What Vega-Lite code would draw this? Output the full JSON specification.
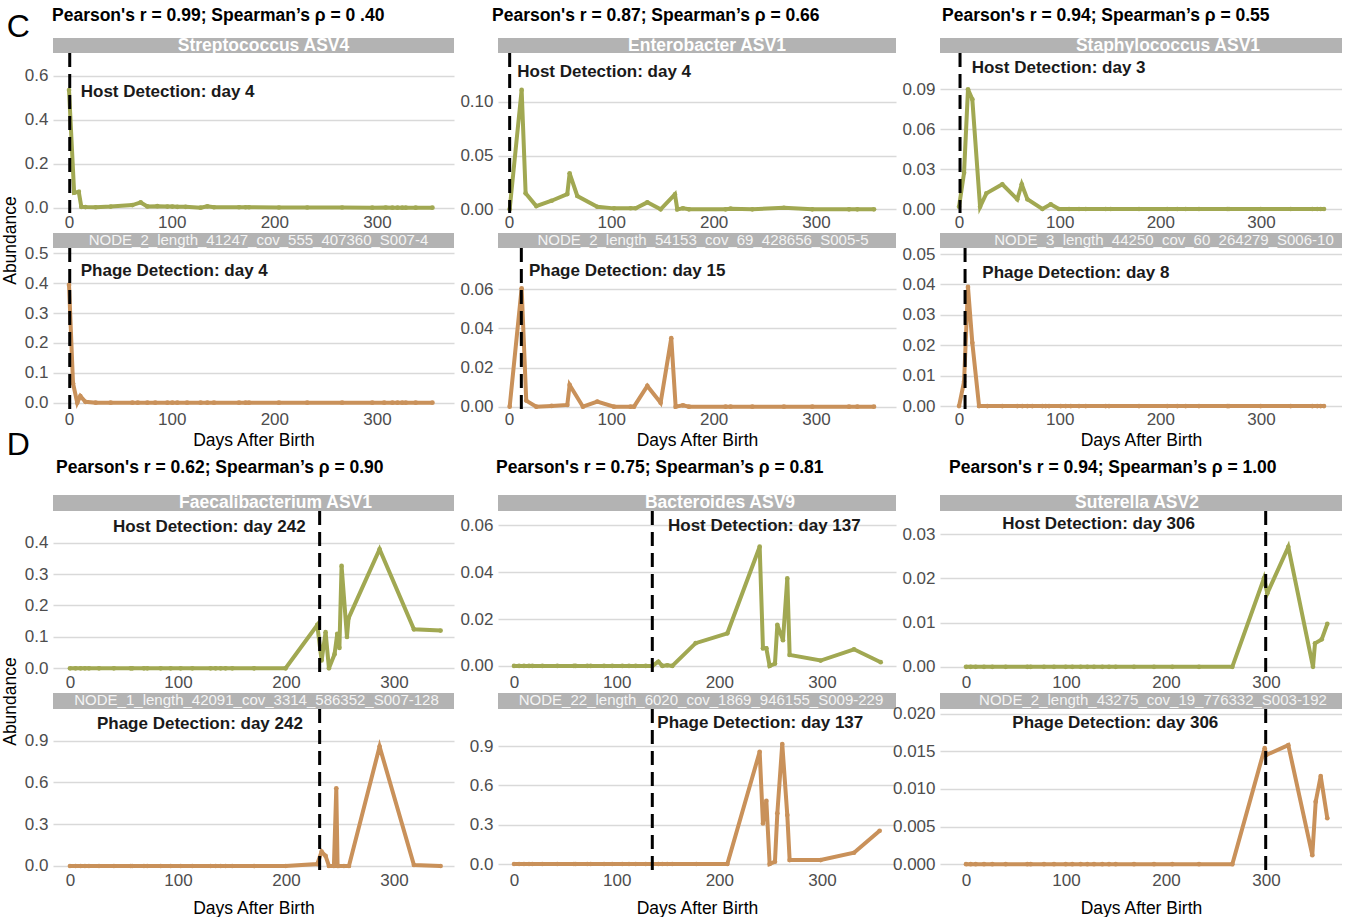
{
"$schema":"https://vega.github.io/schema/vega-lite/v6.json",
"background":"white",
"padding":{"left":1,"top":0,"right":0,"bottom":0},
"bounds":"flush","align":"each","columns":3,
"spacing":{"row":0,"column":44},
"config":{
"font":"Liberation Sans",
"view":{"stroke":null},
"axis":{"domain":false,"ticks":false,"labelOverlap":false,"labelFontSize":17,"labelColor":"#4d4d4d","titleFontSize":17.5,"titleFontWeight":"normal","titleColor":"black"},
"axisX":{"grid":false,"labelPadding":1,"labelFlush":false},
"axisY":{"grid":true,"gridColor":"#d9d9d9","gridWidth":1.3,"labelPadding":5},
"title":{"fontSize":17.5,"fontWeight":"bold","color":"black","anchor":"start","baseline":"middle","frame":"group"}
},
"datasets":{
"meta":[
{"p":"C1h","det":0.7,"label":"Host Detection: day 4"},
{"p":"C1p","det":0.7,"label":"Phage Detection: day 4"},
{"p":"C2h","det":0.7,"label":"Host Detection: day 4"},
{"p":"C2p","det":12.1,"label":"Phage Detection: day 15"},
{"p":"C3h","det":1,"label":"Host Detection: day 3"},
{"p":"C3p","det":6,"label":"Phage Detection: day 8"},
{"p":"D1h","det":231.2,"label":"Host Detection: day 242"},
{"p":"D1p","det":231.2,"label":"Phage Detection: day 242"},
{"p":"D2h","det":134.7,"label":"Host Detection: day 137"},
{"p":"D2p","det":134.7,"label":"Phage Detection: day 137"},
{"p":"D3h","det":299.7,"label":"Host Detection: day 306"},
{"p":"D3p","det":299.7,"label":"Phage Detection: day 306"}],
"series":[
{"p":"C1h","d":0,"a":0.535},{"p":"C1h","d":5,"a":0.068},{"p":"C1h","d":9.5,"a":0.072},{"p":"C1h","d":12,"a":0.004},{"p":"C1h","d":16,"a":0.003},{"p":"C1h","d":26,"a":0.002},{"p":"C1h","d":40.6,"a":0.005},{"p":"C1h","d":61.7,"a":0.012},{"p":"C1h","d":69.8,"a":0.024},{"p":"C1h","d":76.3,"a":0.006},{"p":"C1h","d":86,"a":0.007},{"p":"C1h","d":95.8,"a":0.005},{"p":"C1h","d":100.6,"a":0.005},{"p":"C1h","d":105.5,"a":0.004},{"p":"C1h","d":113.6,"a":0.004},{"p":"C1h","d":128.2,"a":0},{"p":"C1h","d":134.7,"a":0.006},{"p":"C1h","d":141.2,"a":0.002},{"p":"C1h","d":165.6,"a":0.002},{"p":"C1h","d":172,"a":0.002},{"p":"C1h","d":175.3,"a":0.002},{"p":"C1h","d":204.5,"a":0.001},{"p":"C1h","d":232,"a":0.001},{"p":"C1h","d":266,"a":0.001},{"p":"C1h","d":295.4,"a":0},{"p":"C1h","d":308.5,"a":0.001},{"p":"C1h","d":315,"a":0},{"p":"C1h","d":320,"a":0},{"p":"C1h","d":324.6,"a":0},{"p":"C1h","d":328,"a":0},{"p":"C1h","d":337.7,"a":0},{"p":"C1h","d":354,"a":0},
{"p":"C1p","d":0,"a":0.394},{"p":"C1p","d":3.9,"a":0.065},{"p":"C1p","d":8,"a":0},{"p":"C1p","d":11,"a":0.022},{"p":"C1p","d":16,"a":0.003},{"p":"C1p","d":26,"a":0},{"p":"C1p","d":40.6,"a":0},{"p":"C1p","d":61.7,"a":0},{"p":"C1p","d":67,"a":0},{"p":"C1p","d":76.3,"a":0},{"p":"C1p","d":84,"a":0},{"p":"C1p","d":95.8,"a":0},{"p":"C1p","d":100.6,"a":0},{"p":"C1p","d":105.5,"a":0},{"p":"C1p","d":115,"a":0},{"p":"C1p","d":128.2,"a":0},{"p":"C1p","d":134.7,"a":0},{"p":"C1p","d":141.2,"a":0},{"p":"C1p","d":165.6,"a":0},{"p":"C1p","d":172,"a":0},{"p":"C1p","d":175.3,"a":0},{"p":"C1p","d":204.5,"a":0},{"p":"C1p","d":232,"a":0},{"p":"C1p","d":266,"a":0},{"p":"C1p","d":295.4,"a":0},{"p":"C1p","d":307,"a":0},{"p":"C1p","d":315,"a":0},{"p":"C1p","d":320,"a":0},{"p":"C1p","d":324.6,"a":0},{"p":"C1p","d":328,"a":0},{"p":"C1p","d":337.7,"a":0},{"p":"C1p","d":354,"a":0},
{"p":"C2h","d":0.7,"a":0},{"p":"C2h","d":12.4,"a":0.111},{"p":"C2h","d":16.3,"a":0.0149},{"p":"C2h","d":26.7,"a":0.003},{"p":"C2h","d":41.7,"a":0.008},{"p":"C2h","d":57,"a":0.0142},{"p":"C2h","d":59.3,"a":0.0335},{"p":"C2h","d":66.8,"a":0.0124},{"p":"C2h","d":86.3,"a":0.0024},{"p":"C2h","d":102.6,"a":0.0009},{"p":"C2h","d":118.9,"a":0.001},{"p":"C2h","d":123.8,"a":0.001},{"p":"C2h","d":135.2,"a":0.0065},{"p":"C2h","d":148.2,"a":0},{"p":"C2h","d":162.2,"a":0.0139},{"p":"C2h","d":164.5,"a":0},{"p":"C2h","d":170,"a":0.001},{"p":"C2h","d":175.9,"a":0},{"p":"C2h","d":211.7,"a":0},{"p":"C2h","d":216.6,"a":0.0006},{"p":"C2h","d":237.8,"a":0},{"p":"C2h","d":268.7,"a":0.0015},{"p":"C2h","d":296.4,"a":0},{"p":"C2h","d":332.3,"a":0},{"p":"C2h","d":340.4,"a":0},{"p":"C2h","d":356.7,"a":0},
{"p":"C2p","d":0.7,"a":0},{"p":"C2p","d":12.4,"a":0.0605},{"p":"C2p","d":16.9,"a":0.0031},{"p":"C2p","d":26.7,"a":0},{"p":"C2p","d":41.7,"a":0.0004},{"p":"C2p","d":57,"a":0.0009},{"p":"C2p","d":59.3,"a":0.0111},{"p":"C2p","d":72.3,"a":0},{"p":"C2p","d":86.3,"a":0.0026},{"p":"C2p","d":102.6,"a":0},{"p":"C2p","d":118.9,"a":0},{"p":"C2p","d":122.2,"a":0},{"p":"C2p","d":135.2,"a":0.0106},{"p":"C2p","d":148.2,"a":0.002},{"p":"C2p","d":158.6,"a":0.035},{"p":"C2p","d":162.9,"a":0},{"p":"C2p","d":170,"a":0.0007},{"p":"C2p","d":175.9,"a":0},{"p":"C2p","d":211.7,"a":0},{"p":"C2p","d":216.6,"a":0},{"p":"C2p","d":237.8,"a":0},{"p":"C2p","d":268.7,"a":0},{"p":"C2p","d":296.4,"a":0},{"p":"C2p","d":332.3,"a":0},{"p":"C2p","d":340.4,"a":0},{"p":"C2p","d":356.7,"a":0},
{"p":"C3h","d":0,"a":0.0017},{"p":"C3h","d":5,"a":0.0273},{"p":"C3h","d":8.9,"a":0.09},{"p":"C3h","d":13.2,"a":0.0825},{"p":"C3h","d":20.9,"a":0.0017},{"p":"C3h","d":27.2,"a":0.0118},{"p":"C3h","d":43,"a":0.0186},{"p":"C3h","d":57.9,"a":0.0073},{"p":"C3h","d":62.3,"a":0.0186},{"p":"C3h","d":67.9,"a":0.0073},{"p":"C3h","d":82.8,"a":0},{"p":"C3h","d":91.1,"a":0.0035},{"p":"C3h","d":99.3,"a":0},{"p":"C3h","d":109.3,"a":0},{"p":"C3h","d":119.2,"a":0},{"p":"C3h","d":125.9,"a":0},{"p":"C3h","d":145.7,"a":0},{"p":"C3h","d":150.7,"a":0},{"p":"C3h","d":178.8,"a":0},{"p":"C3h","d":206.9,"a":0},{"p":"C3h","d":216.9,"a":0},{"p":"C3h","d":225.2,"a":0},{"p":"C3h","d":238.4,"a":0},{"p":"C3h","d":266.5,"a":0},{"p":"C3h","d":268.2,"a":0},{"p":"C3h","d":299.7,"a":0},{"p":"C3h","d":329.5,"a":0},{"p":"C3h","d":351,"a":0},{"p":"C3h","d":355.9,"a":0},{"p":"C3h","d":359.3,"a":0},{"p":"C3h","d":362.6,"a":0},
{"p":"C3p","d":0,"a":0},{"p":"C3p","d":5,"a":0.008},{"p":"C3p","d":8.9,"a":0.0392},{"p":"C3p","d":13.2,"a":0.0208},{"p":"C3p","d":19.9,"a":0},{"p":"C3p","d":28.1,"a":0},{"p":"C3p","d":43,"a":0},{"p":"C3p","d":57.9,"a":0},{"p":"C3p","d":62.9,"a":0},{"p":"C3p","d":67.9,"a":0},{"p":"C3p","d":72.8,"a":0},{"p":"C3p","d":82.8,"a":0},{"p":"C3p","d":86.1,"a":0},{"p":"C3p","d":89.4,"a":0},{"p":"C3p","d":101,"a":0},{"p":"C3p","d":106,"a":0},{"p":"C3p","d":111,"a":0},{"p":"C3p","d":119.2,"a":0},{"p":"C3p","d":125.9,"a":0},{"p":"C3p","d":145.7,"a":0},{"p":"C3p","d":149,"a":0},{"p":"C3p","d":178.8,"a":0},{"p":"C3p","d":206.9,"a":0},{"p":"C3p","d":216.9,"a":0},{"p":"C3p","d":225.2,"a":0},{"p":"C3p","d":238.4,"a":0},{"p":"C3p","d":266.5,"a":0},{"p":"C3p","d":268.2,"a":0},{"p":"C3p","d":299.7,"a":0},{"p":"C3p","d":329.5,"a":0},{"p":"C3p","d":351,"a":0},{"p":"C3p","d":355.9,"a":0},{"p":"C3p","d":359.3,"a":0},{"p":"C3p","d":362.6,"a":0},
{"p":"D1h","d":0,"a":0},{"p":"D1h","d":5.2,"a":0},{"p":"D1h","d":9.9,"a":0},{"p":"D1h","d":13.9,"a":0},{"p":"D1h","d":17.6,"a":0},{"p":"D1h","d":26.9,"a":0},{"p":"D1h","d":40.7,"a":0},{"p":"D1h","d":56.2,"a":0},{"p":"D1h","d":57.7,"a":0},{"p":"D1h","d":68.5,"a":0},{"p":"D1h","d":71.6,"a":0},{"p":"D1h","d":84,"a":0},{"p":"D1h","d":93.2,"a":0},{"p":"D1h","d":102.5,"a":0},{"p":"D1h","d":113.3,"a":0},{"p":"D1h","d":130.2,"a":0},{"p":"D1h","d":134.9,"a":0},{"p":"D1h","d":139.5,"a":0},{"p":"D1h","d":144.1,"a":0},{"p":"D1h","d":150.3,"a":0},{"p":"D1h","d":170.4,"a":0},{"p":"D1h","d":199.7,"a":0},{"p":"D1h","d":229,"a":0.138},{"p":"D1h","d":233,"a":0.025},{"p":"D1h","d":236.7,"a":0.115},{"p":"D1h","d":239.8,"a":0},{"p":"D1h","d":245,"a":0.045},{"p":"D1h","d":247.5,"a":0.11},{"p":"D1h","d":249.5,"a":0.065},{"p":"D1h","d":251.5,"a":0.326},{"p":"D1h","d":256.5,"a":0.1},{"p":"D1h","d":258,"a":0.16},{"p":"D1h","d":286.7,"a":0.379},{"p":"D1h","d":318.5,"a":0.124},{"p":"D1h","d":343.2,"a":0.12},
{"p":"D1p","d":0,"a":0},{"p":"D1p","d":5.2,"a":0},{"p":"D1p","d":9.9,"a":0},{"p":"D1p","d":13.9,"a":0},{"p":"D1p","d":17.6,"a":0},{"p":"D1p","d":26.9,"a":0},{"p":"D1p","d":40.7,"a":0},{"p":"D1p","d":56.2,"a":0},{"p":"D1p","d":57.7,"a":0},{"p":"D1p","d":68.5,"a":0},{"p":"D1p","d":71.6,"a":0},{"p":"D1p","d":84,"a":0},{"p":"D1p","d":93.2,"a":0},{"p":"D1p","d":102.5,"a":0},{"p":"D1p","d":113.3,"a":0},{"p":"D1p","d":130.2,"a":0},{"p":"D1p","d":134.9,"a":0},{"p":"D1p","d":139.5,"a":0},{"p":"D1p","d":144.1,"a":0},{"p":"D1p","d":150.3,"a":0},{"p":"D1p","d":170.4,"a":0},{"p":"D1p","d":199.7,"a":0},{"p":"D1p","d":229,"a":0.014},{"p":"D1p","d":233,"a":0.103},{"p":"D1p","d":236.7,"a":0.072},{"p":"D1p","d":239.8,"a":0},{"p":"D1p","d":244.4,"a":0},{"p":"D1p","d":246.6,"a":0.558},{"p":"D1p","d":247.8,"a":0},{"p":"D1p","d":249,"a":0},{"p":"D1p","d":253.7,"a":0},{"p":"D1p","d":258.3,"a":0},{"p":"D1p","d":286.7,"a":0.857},{"p":"D1p","d":318.5,"a":0.007},{"p":"D1p","d":343.2,"a":0},
{"p":"D2h","d":0,"a":0},{"p":"D2h","d":4.9,"a":0},{"p":"D2h","d":9.7,"a":0},{"p":"D2h","d":14.6,"a":0},{"p":"D2h","d":17.9,"a":0},{"p":"D2h","d":27.6,"a":0},{"p":"D2h","d":42.2,"a":0},{"p":"D2h","d":58.4,"a":0},{"p":"D2h","d":60.1,"a":0},{"p":"D2h","d":71.4,"a":0},{"p":"D2h","d":74.7,"a":0},{"p":"D2h","d":87.7,"a":0},{"p":"D2h","d":95.7,"a":0},{"p":"D2h","d":105.5,"a":0},{"p":"D2h","d":112,"a":0},{"p":"D2h","d":118.5,"a":0},{"p":"D2h","d":128.3,"a":0},{"p":"D2h","d":134.7,"a":0},{"p":"D2h","d":140.6,"a":0.0018},{"p":"D2h","d":144.5,"a":0},{"p":"D2h","d":149.3,"a":0.0003},{"p":"D2h","d":154.2,"a":0},{"p":"D2h","d":176.9,"a":0.0097},{"p":"D2h","d":207.8,"a":0.0139},{"p":"D2h","d":239.3,"a":0.0508},{"p":"D2h","d":242.5,"a":0.0075},{"p":"D2h","d":245.8,"a":0.0075},{"p":"D2h","d":249,"a":0},{"p":"D2h","d":254.2,"a":0.001},{"p":"D2h","d":256.5,"a":0.0175},{"p":"D2h","d":262,"a":0.011},{"p":"D2h","d":266.2,"a":0.0373},{"p":"D2h","d":268.5,"a":0.0047},{"p":"D2h","d":298.7,"a":0.0023},{"p":"D2h","d":331.2,"a":0.0071},{"p":"D2h","d":357.2,"a":0.0016},
{"p":"D2p","d":0,"a":0},{"p":"D2p","d":4.9,"a":0},{"p":"D2p","d":9.7,"a":0},{"p":"D2p","d":14.6,"a":0},{"p":"D2p","d":17.9,"a":0},{"p":"D2p","d":27.6,"a":0},{"p":"D2p","d":42.2,"a":0},{"p":"D2p","d":58.4,"a":0},{"p":"D2p","d":60.1,"a":0},{"p":"D2p","d":71.4,"a":0},{"p":"D2p","d":74.7,"a":0},{"p":"D2p","d":87.7,"a":0},{"p":"D2p","d":95.7,"a":0},{"p":"D2p","d":105.5,"a":0},{"p":"D2p","d":112,"a":0},{"p":"D2p","d":118.5,"a":0},{"p":"D2p","d":128.3,"a":0},{"p":"D2p","d":134.7,"a":0},{"p":"D2p","d":140.6,"a":0},{"p":"D2p","d":144.5,"a":0},{"p":"D2p","d":149.3,"a":0},{"p":"D2p","d":154.2,"a":0},{"p":"D2p","d":177.6,"a":0},{"p":"D2p","d":207.8,"a":0},{"p":"D2p","d":239.3,"a":0.857},{"p":"D2p","d":242.5,"a":0.31},{"p":"D2p","d":245.8,"a":0.483},{"p":"D2p","d":249,"a":0},{"p":"D2p","d":254.2,"a":0.018},{"p":"D2p","d":256.5,"a":0.387},{"p":"D2p","d":261.3,"a":0.916},{"p":"D2p","d":266.2,"a":0.374},{"p":"D2p","d":268.5,"a":0.03},{"p":"D2p","d":298.7,"a":0.03},{"p":"D2p","d":331.2,"a":0.086},{"p":"D2p","d":356.2,"a":0.254},
{"p":"D3h","d":0,"a":0},{"p":"D3h","d":4.7,"a":0},{"p":"D3h","d":9.7,"a":0},{"p":"D3h","d":18,"a":0},{"p":"D3h","d":26.3,"a":0},{"p":"D3h","d":39.7,"a":0},{"p":"D3h","d":61.3,"a":0},{"p":"D3h","d":64.7,"a":0},{"p":"D3h","d":78,"a":0},{"p":"D3h","d":88,"a":0},{"p":"D3h","d":99.7,"a":0},{"p":"D3h","d":106.3,"a":0},{"p":"D3h","d":114.7,"a":0},{"p":"D3h","d":121.3,"a":0},{"p":"D3h","d":128,"a":0},{"p":"D3h","d":136.3,"a":0},{"p":"D3h","d":143,"a":0},{"p":"D3h","d":149.7,"a":0},{"p":"D3h","d":168,"a":0},{"p":"D3h","d":188,"a":0},{"p":"D3h","d":206.3,"a":0},{"p":"D3h","d":233,"a":0},{"p":"D3h","d":266.3,"a":0},{"p":"D3h","d":298,"a":0.02},{"p":"D3h","d":301.3,"a":0.0166},{"p":"D3h","d":322.3,"a":0.0271},{"p":"D3h","d":347,"a":0},{"p":"D3h","d":349,"a":0.0053},{"p":"D3h","d":355.7,"a":0.0062},{"p":"D3h","d":361.3,"a":0.0097},
{"p":"D3p","d":0,"a":0},{"p":"D3p","d":4.7,"a":0},{"p":"D3p","d":9.7,"a":0},{"p":"D3p","d":18,"a":0},{"p":"D3p","d":26.3,"a":0},{"p":"D3p","d":39.7,"a":0},{"p":"D3p","d":61.3,"a":0},{"p":"D3p","d":64.7,"a":0},{"p":"D3p","d":78,"a":0},{"p":"D3p","d":88,"a":0},{"p":"D3p","d":99.7,"a":0},{"p":"D3p","d":106.3,"a":0},{"p":"D3p","d":114.7,"a":0},{"p":"D3p","d":121.3,"a":0},{"p":"D3p","d":128,"a":0},{"p":"D3p","d":136.3,"a":0},{"p":"D3p","d":143,"a":0},{"p":"D3p","d":149.7,"a":0},{"p":"D3p","d":168,"a":0},{"p":"D3p","d":188,"a":0},{"p":"D3p","d":206.3,"a":0},{"p":"D3p","d":233,"a":0},{"p":"D3p","d":266.3,"a":0},{"p":"D3p","d":298.7,"a":0.0154},{"p":"D3p","d":300.3,"a":0.0145},{"p":"D3p","d":322.3,"a":0.0158},{"p":"D3p","d":346.3,"a":0.0012},{"p":"D3p","d":349.7,"a":0.0083},{"p":"D3p","d":354.7,"a":0.0117},{"p":"D3p","d":361.3,"a":0.0061}
]},
"concat":[
{"width":401,"height":38,"data":{"values":[]},"mark":"text","encoding":{},"title":{"text":"C","orient":"left","angle":0,"align":"right","baseline":"middle","anchor":"middle","fontSize":32,"fontWeight":"normal","offset":0,"dy":8}},
{"width":398,"height":38,"data":{"values":[]},"mark":"text","encoding":{}},
{"width":402,"height":38,"data":{"values":[]},"mark":"text","encoding":{}},

{"width":401,"height":15,"view":{"fill":"#b3b3b3","stroke":null},"title":{"text":"Pearson's r = 0.99; Spearman’s ρ = 0 .40","offset":12,"dx":-1},"data":{"values":[{"s":"Streptococcus ASV4"}]},"mark":{"type":"text","color":"white","fontWeight":"bold","fontSize":17.5,"dx":10},"encoding":{"text":{"field":"s","type":"nominal"}}},
{"width":398,"height":15,"view":{"fill":"#b3b3b3","stroke":null},"title":{"text":"Pearson's r = 0.87; Spearman’s ρ = 0.66","offset":12,"dx":-6},"data":{"values":[{"s":"Enterobacter ASV1"}]},"mark":{"type":"text","color":"white","fontWeight":"bold","fontSize":17.5,"dx":10},"encoding":{"text":{"field":"s","type":"nominal"}}},
{"width":402,"height":15,"view":{"fill":"#b3b3b3","stroke":null},"title":{"text":"Pearson's r = 0.94; Spearman’s ρ = 0.55","offset":12,"dx":2},"data":{"values":[{"s":"Staphylococcus ASV1"}]},"mark":{"type":"text","color":"white","fontWeight":"bold","fontSize":17.5,"dx":27},"encoding":{"text":{"field":"s","type":"nominal"}}},

{"width":401,"height":160,"layer":[
{"data":{"name":"series"},"transform":[{"filter":"datum.p === 'C1h'"}],"mark":{"type":"line","color":"#a1a852","strokeWidth":4,"point":{"filled":true,"size":22,"color":"#a1a852"}},"encoding":{"x":{"field":"d","type":"quantitative","scale":{"domain":[-15.6,375],"nice":false,"zero":false},"axis":{"values":[0,100,200,300],"tickCount":20,"format":"d","title":null}},"y":{"field":"a","type":"quantitative","scale":{"domain":[-0.0241,0.7032],"nice":false,"zero":false},"axis":{"values":[0,0.2,0.4,0.6],"tickCount":20,"format":".1f","title":"Abundance","titleX":-43,"titleY":187,"titleAngle":-90,"titleAlign":"center","titleBaseline":"middle"}}}},
{"data":{"name":"meta"},"transform":[{"filter":"datum.p === 'C1h'"}],"mark":{"type":"rule","color":"black","strokeWidth":3,"strokeDash":[14,7]},"encoding":{"x":{"field":"det","type":"quantitative"}}},
{"data":{"name":"meta"},"transform":[{"filter":"datum.p === 'C1h'"}],"mark":{"type":"text","align":"left","fontWeight":"bold","fontSize":17,"color":"#1a1a1a"},"encoding":{"text":{"field":"label","type":"nominal"},"x":{"datum":11.4},"y":{"datum":0.527}}}]},
{"width":398,"height":160,"layer":[
{"data":{"name":"series"},"transform":[{"filter":"datum.p === 'C2h'"}],"mark":{"type":"line","color":"#a1a852","strokeWidth":4,"point":{"filled":true,"size":22,"color":"#a1a852"}},"encoding":{"x":{"field":"d","type":"quantitative","scale":{"domain":[-10.7,378.2],"nice":false,"zero":false},"axis":{"values":[0,100,200,300],"tickCount":20,"format":"d","title":null}},"y":{"field":"a","type":"quantitative","scale":{"domain":[-0.0034,0.1453],"nice":false,"zero":false},"axis":{"values":[0,0.05,0.1],"tickCount":20,"format":".2f","title":null}}}},
{"data":{"name":"meta"},"transform":[{"filter":"datum.p === 'C2h'"}],"mark":{"type":"rule","color":"black","strokeWidth":3,"strokeDash":[14,7]},"encoding":{"x":{"field":"det","type":"quantitative"}}},
{"data":{"name":"meta"},"transform":[{"filter":"datum.p === 'C2h'"}],"mark":{"type":"text","align":"left","fontWeight":"bold","fontSize":17,"color":"#1a1a1a"},"encoding":{"text":{"field":"label","type":"nominal"},"x":{"datum":8.1},"y":{"datum":0.128}}}]},
{"width":402,"height":160,"layer":[
{"data":{"name":"series"},"transform":[{"filter":"datum.p === 'C3h'"}],"mark":{"type":"line","color":"#a1a852","strokeWidth":4,"point":{"filled":true,"size":22,"color":"#a1a852"}},"encoding":{"x":{"field":"d","type":"quantitative","scale":{"domain":[-18.9,380.5],"nice":false,"zero":false},"axis":{"values":[0,100,200,300],"tickCount":20,"format":"d","title":null}},"y":{"field":"a","type":"quantitative","scale":{"domain":[-0.003,0.1173],"nice":false,"zero":false},"axis":{"values":[0,0.03,0.06,0.09],"tickCount":20,"format":".2f","title":null}}}},
{"data":{"name":"meta"},"transform":[{"filter":"datum.p === 'C3h'"}],"mark":{"type":"rule","color":"black","strokeWidth":3,"strokeDash":[14,7]},"encoding":{"x":{"field":"det","type":"quantitative"}}},
{"data":{"name":"meta"},"transform":[{"filter":"datum.p === 'C3h'"}],"mark":{"type":"text","align":"left","fontWeight":"bold","fontSize":17,"color":"#1a1a1a"},"encoding":{"text":{"field":"label","type":"nominal"},"x":{"datum":12.6},"y":{"datum":0.1058}}}]},

{"width":401,"height":20,"data":{"values":[]},"mark":"text","encoding":{}},
{"width":398,"height":20,"data":{"values":[]},"mark":"text","encoding":{}},
{"width":402,"height":20,"data":{"values":[]},"mark":"text","encoding":{}},

{"width":401,"height":15,"view":{"fill":"#b3b3b3","stroke":null},"data":{"values":[{"s":"NODE_2_length_41247_cov_555_407360_S007-4"}]},"mark":{"type":"text","color":"#f5f5f5","fontSize":15,"dx":5,"dy":-1},"encoding":{"text":{"field":"s","type":"nominal"}}},
{"width":398,"height":15,"view":{"fill":"#b3b3b3","stroke":null},"data":{"values":[{"s":"NODE_2_length_54153_cov_69_428656_S005-5"}]},"mark":{"type":"text","color":"#f5f5f5","fontSize":15,"dx":6,"dy":-1},"encoding":{"text":{"field":"s","type":"nominal"}}},
{"width":402,"height":15,"view":{"fill":"#b3b3b3","stroke":null},"data":{"values":[{"s":"NODE_3_length_44250_cov_60_264279_S006-10"}]},"mark":{"type":"text","color":"#f5f5f5","fontSize":15,"dx":23,"dy":-1},"encoding":{"text":{"field":"s","type":"nominal"}}},

{"width":401,"height":162,"layer":[
{"data":{"name":"series"},"transform":[{"filter":"datum.p === 'C1p'"}],"mark":{"type":"line","color":"#c9915a","strokeWidth":4,"point":{"filled":true,"size":22,"color":"#c9915a"}},"encoding":{"x":{"field":"d","type":"quantitative","scale":{"domain":[-15.6,375],"nice":false,"zero":false},"axis":{"values":[0,100,200,300],"tickCount":20,"format":"d","title":"Days After Birth","titlePadding":4}},"y":{"field":"a","type":"quantitative","scale":{"domain":[-0.0244,0.5174],"nice":false,"zero":false},"axis":{"values":[0,0.1,0.2,0.3,0.4,0.5],"tickCount":20,"format":".1f","title":null}}}},
{"data":{"name":"meta"},"transform":[{"filter":"datum.p === 'C1p'"}],"mark":{"type":"rule","color":"black","strokeWidth":3,"strokeDash":[14,7]},"encoding":{"x":{"field":"det","type":"quantitative"}}},
{"data":{"name":"meta"},"transform":[{"filter":"datum.p === 'C1p'"}],"mark":{"type":"text","align":"left","fontWeight":"bold","fontSize":17,"color":"#1a1a1a"},"encoding":{"text":{"field":"label","type":"nominal"},"x":{"datum":11.4},"y":{"datum":0.4415}}}]},
{"width":398,"height":162,"layer":[
{"data":{"name":"series"},"transform":[{"filter":"datum.p === 'C2p'"}],"mark":{"type":"line","color":"#c9915a","strokeWidth":4,"point":{"filled":true,"size":22,"color":"#c9915a"}},"encoding":{"x":{"field":"d","type":"quantitative","scale":{"domain":[-10.7,378.2],"nice":false,"zero":false},"axis":{"values":[0,100,200,300],"tickCount":20,"format":"d","title":"Days After Birth","titlePadding":4}},"y":{"field":"a","type":"quantitative","scale":{"domain":[-0.0017,0.0811],"nice":false,"zero":false},"axis":{"values":[0,0.02,0.04,0.06],"tickCount":20,"format":".2f","title":null}}}},
{"data":{"name":"meta"},"transform":[{"filter":"datum.p === 'C2p'"}],"mark":{"type":"rule","color":"black","strokeWidth":3,"strokeDash":[14,7]},"encoding":{"x":{"field":"det","type":"quantitative"}}},
{"data":{"name":"meta"},"transform":[{"filter":"datum.p === 'C2p'"}],"mark":{"type":"text","align":"left","fontWeight":"bold","fontSize":17,"color":"#1a1a1a"},"encoding":{"text":{"field":"label","type":"nominal"},"x":{"datum":19.5},"y":{"datum":0.0694}}}]},
{"width":402,"height":162,"layer":[
{"data":{"name":"series"},"transform":[{"filter":"datum.p === 'C3p'"}],"mark":{"type":"line","color":"#c9915a","strokeWidth":4,"point":{"filled":true,"size":22,"color":"#c9915a"}},"encoding":{"x":{"field":"d","type":"quantitative","scale":{"domain":[-18.9,380.5],"nice":false,"zero":false},"axis":{"values":[0,100,200,300],"tickCount":20,"format":"d","title":"Days After Birth","titlePadding":4}},"y":{"field":"a","type":"quantitative","scale":{"domain":[-0.0013,0.052],"nice":false,"zero":false},"axis":{"values":[0,0.01,0.02,0.03,0.04,0.05],"tickCount":20,"format":".2f","title":null}}}},
{"data":{"name":"meta"},"transform":[{"filter":"datum.p === 'C3p'"}],"mark":{"type":"rule","color":"black","strokeWidth":3,"strokeDash":[14,7]},"encoding":{"x":{"field":"det","type":"quantitative"}}},
{"data":{"name":"meta"},"transform":[{"filter":"datum.p === 'C3p'"}],"mark":{"type":"text","align":"left","fontWeight":"bold","fontSize":17,"color":"#1a1a1a"},"encoding":{"text":{"field":"label","type":"nominal"},"x":{"datum":23.2},"y":{"datum":0.0437}}}]},

{"width":401,"height":85,"data":{"values":[]},"mark":"text","encoding":{},"title":{"text":"D","orient":"left","angle":0,"align":"right","baseline":"middle","anchor":"middle","fontSize":32,"fontWeight":"normal","offset":0,"dy":-8}},
{"width":398,"height":85,"data":{"values":[]},"mark":"text","encoding":{}},
{"width":402,"height":85,"data":{"values":[]},"mark":"text","encoding":{}},

{"width":401,"height":16,"view":{"fill":"#b3b3b3","stroke":null},"title":{"text":"Pearson's r = 0.62; Spearman’s ρ = 0.90","offset":18,"dx":3},"data":{"values":[{"s":"Faecalibacterium ASV1"}]},"mark":{"type":"text","color":"white","fontWeight":"bold","fontSize":17.5,"dx":22},"encoding":{"text":{"field":"s","type":"nominal"}}},
{"width":398,"height":16,"view":{"fill":"#b3b3b3","stroke":null},"title":{"text":"Pearson's r = 0.75; Spearman’s ρ = 0.81","offset":18,"dx":-2},"data":{"values":[{"s":"Bacteroides ASV9"}]},"mark":{"type":"text","color":"white","fontWeight":"bold","fontSize":17.5,"dx":23},"encoding":{"text":{"field":"s","type":"nominal"}}},
{"width":402,"height":16,"view":{"fill":"#b3b3b3","stroke":null},"title":{"text":"Pearson's r = 0.94; Spearman’s ρ = 1.00","offset":18,"dx":9},"data":{"values":[{"s":"Suterella ASV2"}]},"mark":{"type":"text","color":"white","fontWeight":"bold","fontSize":17.5,"dx":-4},"encoding":{"text":{"field":"s","type":"nominal"}}},

{"width":401,"height":162,"layer":[
{"data":{"name":"series"},"transform":[{"filter":"datum.p === 'D1h'"}],"mark":{"type":"line","color":"#a1a852","strokeWidth":4,"point":{"filled":true,"size":22,"color":"#a1a852"}},"encoding":{"x":{"field":"d","type":"quantitative","scale":{"domain":[-15.7,355.6],"nice":false,"zero":false},"axis":{"values":[0,100,200,300],"tickCount":20,"format":"d","title":null}},"y":{"field":"a","type":"quantitative","scale":{"domain":[-0.015,0.501],"nice":false,"zero":false},"axis":{"values":[0,0.1,0.2,0.3,0.4],"tickCount":20,"format":".1f","title":"Abundance","titleX":-43,"titleY":190,"titleAngle":-90,"titleAlign":"center","titleBaseline":"middle"}}}},
{"data":{"name":"meta"},"transform":[{"filter":"datum.p === 'D1h'"}],"mark":{"type":"rule","color":"black","strokeWidth":3,"strokeDash":[14,7]},"encoding":{"x":{"field":"det","type":"quantitative"}}},
{"data":{"name":"meta"},"transform":[{"filter":"datum.p === 'D1h'"}],"mark":{"type":"text","align":"right","fontWeight":"bold","fontSize":17,"color":"#1a1a1a"},"encoding":{"text":{"field":"label","type":"nominal"},"x":{"datum":218.2},"y":{"datum":0.449}}}]},
{"width":398,"height":162,"layer":[
{"data":{"name":"series"},"transform":[{"filter":"datum.p === 'D2h'"}],"mark":{"type":"line","color":"#a1a852","strokeWidth":4,"point":{"filled":true,"size":22,"color":"#a1a852"}},"encoding":{"x":{"field":"d","type":"quantitative","scale":{"domain":[-15.6,372.1],"nice":false,"zero":false},"axis":{"values":[0,100,200,300],"tickCount":20,"format":"d","title":null}},"y":{"field":"a","type":"quantitative","scale":{"domain":[-0.003,0.066],"nice":false,"zero":false},"axis":{"values":[0,0.02,0.04,0.06],"tickCount":20,"format":".2f","title":null}}}},
{"data":{"name":"meta"},"transform":[{"filter":"datum.p === 'D2h'"}],"mark":{"type":"rule","color":"black","strokeWidth":3,"strokeDash":[14,7]},"encoding":{"x":{"field":"det","type":"quantitative"}}},
{"data":{"name":"meta"},"transform":[{"filter":"datum.p === 'D2h'"}],"mark":{"type":"text","align":"left","fontWeight":"bold","fontSize":17,"color":"#1a1a1a"},"encoding":{"text":{"field":"label","type":"nominal"},"x":{"datum":150},"y":{"datum":0.0596}}}]},
{"width":402,"height":162,"layer":[
{"data":{"name":"series"},"transform":[{"filter":"datum.p === 'D3h'"}],"mark":{"type":"line","color":"#a1a852","strokeWidth":4,"point":{"filled":true,"size":22,"color":"#a1a852"}},"encoding":{"x":{"field":"d","type":"quantitative","scale":{"domain":[-26,376],"nice":false,"zero":false},"axis":{"values":[0,100,200,300],"tickCount":20,"format":"d","title":null}},"y":{"field":"a","type":"quantitative","scale":{"domain":[-0.0014,0.0352],"nice":false,"zero":false},"axis":{"values":[0,0.01,0.02,0.03],"tickCount":20,"format":".2f","title":null}}}},
{"data":{"name":"meta"},"transform":[{"filter":"datum.p === 'D3h'"}],"mark":{"type":"rule","color":"black","strokeWidth":3,"strokeDash":[14,7]},"encoding":{"x":{"field":"det","type":"quantitative"}}},
{"data":{"name":"meta"},"transform":[{"filter":"datum.p === 'D3h'"}],"mark":{"type":"text","align":"right","fontWeight":"bold","fontSize":17,"color":"#1a1a1a"},"encoding":{"text":{"field":"label","type":"nominal"},"x":{"datum":229},"y":{"datum":0.0323}}}]},

{"width":401,"height":20,"data":{"values":[]},"mark":"text","encoding":{}},
{"width":398,"height":20,"data":{"values":[]},"mark":"text","encoding":{}},
{"width":402,"height":20,"data":{"values":[]},"mark":"text","encoding":{}},

{"width":401,"height":16,"view":{"fill":"#b3b3b3","stroke":null},"data":{"values":[{"s":"NODE_1_length_42091_cov_3314_586352_S007-128"}]},"mark":{"type":"text","color":"#f5f5f5","fontSize":15,"dx":3,"dy":-1},"encoding":{"text":{"field":"s","type":"nominal"}}},
{"width":398,"height":16,"view":{"fill":"#b3b3b3","stroke":null},"data":{"values":[{"s":"NODE_22_length_6020_cov_1869_946155_S009-229"}]},"mark":{"type":"text","color":"#f5f5f5","fontSize":15,"dx":4,"dy":-1},"encoding":{"text":{"field":"s","type":"nominal"}}},
{"width":402,"height":16,"view":{"fill":"#b3b3b3","stroke":null},"data":{"values":[{"s":"NODE_2_length_43275_cov_19_776332_S003-192"}]},"mark":{"type":"text","color":"#f5f5f5","fontSize":15,"dx":12,"dy":-1},"encoding":{"text":{"field":"s","type":"nominal"}}},

{"width":401,"height":162,"layer":[
{"data":{"name":"series"},"transform":[{"filter":"datum.p === 'D1p'"}],"mark":{"type":"line","color":"#c9915a","strokeWidth":4,"point":{"filled":true,"size":22,"color":"#c9915a"}},"encoding":{"x":{"field":"d","type":"quantitative","scale":{"domain":[-15.7,355.6],"nice":false,"zero":false},"axis":{"values":[0,100,200,300],"tickCount":20,"format":"d","title":"Days After Birth","titlePadding":11}},"y":{"field":"a","type":"quantitative","scale":{"domain":[-0.0359,1.127],"nice":false,"zero":false},"axis":{"values":[0,0.3,0.6,0.9],"tickCount":20,"format":".1f","title":null}}}},
{"data":{"name":"meta"},"transform":[{"filter":"datum.p === 'D1p'"}],"mark":{"type":"rule","color":"black","strokeWidth":3,"strokeDash":[14,7]},"encoding":{"x":{"field":"det","type":"quantitative"}}},
{"data":{"name":"meta"},"transform":[{"filter":"datum.p === 'D1p'"}],"mark":{"type":"text","align":"right","fontWeight":"bold","fontSize":17,"color":"#1a1a1a"},"encoding":{"text":{"field":"label","type":"nominal"},"x":{"datum":215.7},"y":{"datum":1.017}}}]},
{"width":398,"height":162,"layer":[
{"data":{"name":"series"},"transform":[{"filter":"datum.p === 'D2p'"}],"mark":{"type":"line","color":"#c9915a","strokeWidth":4,"point":{"filled":true,"size":22,"color":"#c9915a"}},"encoding":{"x":{"field":"d","type":"quantitative","scale":{"domain":[-15.6,372.1],"nice":false,"zero":false},"axis":{"values":[0,100,200,300],"tickCount":20,"format":"d","title":"Days After Birth","titlePadding":11}},"y":{"field":"a","type":"quantitative","scale":{"domain":[-0.0534,1.1832],"nice":false,"zero":false},"axis":{"values":[0,0.3,0.6,0.9],"tickCount":20,"format":".1f","title":null}}}},
{"data":{"name":"meta"},"transform":[{"filter":"datum.p === 'D2p'"}],"mark":{"type":"rule","color":"black","strokeWidth":3,"strokeDash":[14,7]},"encoding":{"x":{"field":"det","type":"quantitative"}}},
{"data":{"name":"meta"},"transform":[{"filter":"datum.p === 'D2p'"}],"mark":{"type":"text","align":"left","fontWeight":"bold","fontSize":17,"color":"#1a1a1a"},"encoding":{"text":{"field":"label","type":"nominal"},"x":{"datum":139.6},"y":{"datum":1.074}}}]},
{"width":402,"height":162,"layer":[
{"data":{"name":"series"},"transform":[{"filter":"datum.p === 'D3p'"}],"mark":{"type":"line","color":"#c9915a","strokeWidth":4,"point":{"filled":true,"size":22,"color":"#c9915a"}},"encoding":{"x":{"field":"d","type":"quantitative","scale":{"domain":[-26,376],"nice":false,"zero":false},"axis":{"values":[0,100,200,300],"tickCount":20,"format":"d","title":"Days After Birth","titlePadding":11}},"y":{"field":"a","type":"quantitative","scale":{"domain":[-0.0009,0.0206],"nice":false,"zero":false},"axis":{"values":[0,0.005,0.01,0.015,0.02],"tickCount":20,"format":".3f","title":null}}}},
{"data":{"name":"meta"},"transform":[{"filter":"datum.p === 'D3p'"}],"mark":{"type":"rule","color":"black","strokeWidth":3,"strokeDash":[14,7]},"encoding":{"x":{"field":"det","type":"quantitative"}}},
{"data":{"name":"meta"},"transform":[{"filter":"datum.p === 'D3p'"}],"mark":{"type":"text","align":"right","fontWeight":"bold","fontSize":17,"color":"#1a1a1a"},"encoding":{"text":{"field":"label","type":"nominal"},"x":{"datum":252.3},"y":{"datum":0.01875}}}]}
]
}
